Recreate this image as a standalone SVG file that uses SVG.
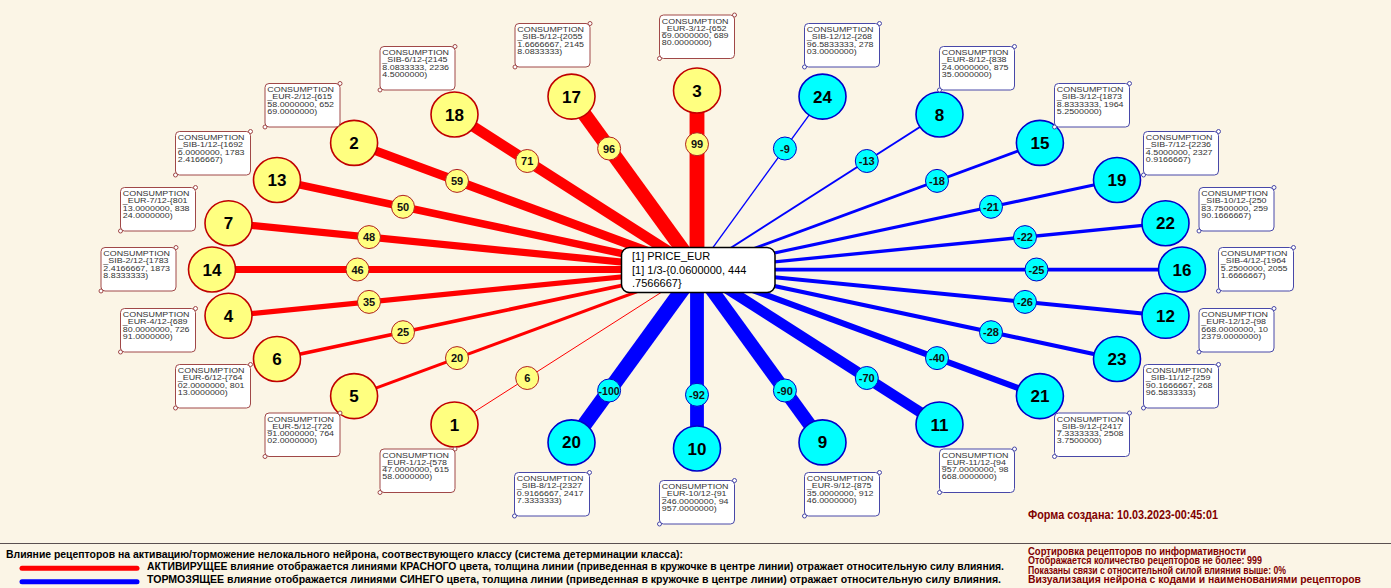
<svg xmlns="http://www.w3.org/2000/svg" width="1391" height="588" viewBox="0 0 1391 588">
<style>
.lr{stroke:#FF0000}
.lb{stroke:#0000FF}
.ny{fill:#FFFF80;stroke:#C00000;stroke-width:1.6}
.nc{fill:#00FFFF;stroke:#0000C8;stroke-width:1.6}
.nt{font-family:"Liberation Sans",Arial,sans-serif;font-weight:bold;font-size:17px;text-anchor:middle;fill:#000}
.vy{fill:#FFFF80;stroke:#B02020;stroke-width:1}
.vc{fill:#00FFFF;stroke:#0000C8;stroke-width:1}
.vt{font-family:"Liberation Sans",Arial,sans-serif;font-weight:bold;font-size:11px;text-anchor:middle;fill:#111}
.br{fill:#fff;stroke:#A04848;stroke-width:1}
.bb{fill:#fff;stroke:#4848A8;stroke-width:1}
.dr{fill:#fff;stroke:#A04848;stroke-width:1}
.db{fill:#fff;stroke:#4848A8;stroke-width:1}
.bt{font-family:"Liberation Sans",Arial,sans-serif;font-size:7px;fill:#333}
.ct{font-family:"Liberation Sans",Arial,sans-serif;font-size:11px;fill:#000}
.lg{font-family:"Liberation Sans",Arial,sans-serif;font-weight:bold;font-size:10px;fill:#000}
.rg{font-family:"Liberation Sans",Arial,sans-serif;font-weight:bold;font-size:10px;fill:#800000}
</style>
<rect x="0" y="0" width="1391" height="588" fill="#FBF5E6"/>
<g id="connectors">
<line class="lr" x1="697" y1="269.5" x2="697" y2="90.5" stroke-width="14.85"/>
<line class="lr" x1="697" y1="269.5" x2="571.5" y2="96.6" stroke-width="14.4"/>
<line class="lr" x1="697" y1="269.5" x2="454.5" y2="114.5" stroke-width="10.65"/>
<line class="lr" x1="697" y1="269.5" x2="354.1" y2="142.9" stroke-width="8.85"/>
<line class="lr" x1="697" y1="269.5" x2="277" y2="180" stroke-width="7.5"/>
<line class="lr" x1="697" y1="269.5" x2="228.5" y2="223.2" stroke-width="7.2"/>
<line class="lr" x1="697" y1="269.5" x2="212" y2="269.5" stroke-width="6.9"/>
<line class="lr" x1="697" y1="269.5" x2="228.5" y2="315.8" stroke-width="5.25"/>
<line class="lr" x1="697" y1="269.5" x2="277" y2="359" stroke-width="3.75"/>
<line class="lr" x1="697" y1="269.5" x2="354.1" y2="396.1" stroke-width="3"/>
<line class="lr" x1="697" y1="269.5" x2="454.5" y2="424.5" stroke-width="1"/>
<line class="lb" x1="697" y1="269.5" x2="571.5" y2="442.4" stroke-width="15"/>
<line class="lb" x1="697" y1="269.5" x2="697" y2="448.5" stroke-width="13.8"/>
<line class="lb" x1="697" y1="269.5" x2="822.5" y2="442.4" stroke-width="13.5"/>
<line class="lb" x1="697" y1="269.5" x2="939.5" y2="424.5" stroke-width="10.5"/>
<line class="lb" x1="697" y1="269.5" x2="1039.9" y2="396.1" stroke-width="6"/>
<line class="lb" x1="697" y1="269.5" x2="1117" y2="359" stroke-width="4.2"/>
<line class="lb" x1="697" y1="269.5" x2="1165.5" y2="315.8" stroke-width="3.9"/>
<line class="lb" x1="697" y1="269.5" x2="1182" y2="269.5" stroke-width="3.75"/>
<line class="lb" x1="697" y1="269.5" x2="1165.5" y2="223.2" stroke-width="3.3"/>
<line class="lb" x1="697" y1="269.5" x2="1117" y2="180" stroke-width="3.15"/>
<line class="lb" x1="697" y1="269.5" x2="1039.9" y2="142.9" stroke-width="2.7"/>
<line class="lb" x1="697" y1="269.5" x2="939.5" y2="114.5" stroke-width="1.95"/>
<line class="lb" x1="697" y1="269.5" x2="822.5" y2="96.6" stroke-width="1.35"/>
<circle class="vy" cx="697" cy="144.2" r="11.5"/><text class="vt" x="697" y="148.2">99</text>
<circle class="vy" cx="609.1" cy="148.5" r="11.5"/><text class="vt" x="609.1" y="152.5">96</text>
<circle class="vy" cx="527.2" cy="161" r="11.5"/><text class="vt" x="527.2" y="165">71</text>
<circle class="vy" cx="457" cy="180.9" r="11.5"/><text class="vt" x="457" y="184.9">59</text>
<circle class="vy" cx="403" cy="206.8" r="11.5"/><text class="vt" x="403" y="210.8">50</text>
<circle class="vy" cx="369" cy="237.1" r="11.5"/><text class="vt" x="369" y="241.1">48</text>
<circle class="vy" cx="357.5" cy="269.5" r="11.5"/><text class="vt" x="357.5" y="273.5">46</text>
<circle class="vy" cx="369" cy="301.9" r="11.5"/><text class="vt" x="369" y="305.9">35</text>
<circle class="vy" cx="403" cy="332.2" r="11.5"/><text class="vt" x="403" y="336.2">25</text>
<circle class="vy" cx="457" cy="358.1" r="11.5"/><text class="vt" x="457" y="362.1">20</text>
<circle class="vy" cx="527.2" cy="378" r="11.5"/><text class="vt" x="527.2" y="382">6</text>
<circle class="vc" cx="609.1" cy="390.5" r="11.5"/><text class="vt" x="609.1" y="394.5" textLength="21" lengthAdjust="spacingAndGlyphs">-100</text>
<circle class="vc" cx="697" cy="394.8" r="11.5"/><text class="vt" x="697" y="398.8">-92</text>
<circle class="vc" cx="784.9" cy="390.5" r="11.5"/><text class="vt" x="784.9" y="394.5">-90</text>
<circle class="vc" cx="866.8" cy="378" r="11.5"/><text class="vt" x="866.8" y="382">-70</text>
<circle class="vc" cx="937" cy="358.1" r="11.5"/><text class="vt" x="937" y="362.1">-40</text>
<circle class="vc" cx="991" cy="332.2" r="11.5"/><text class="vt" x="991" y="336.2">-28</text>
<circle class="vc" cx="1025" cy="301.9" r="11.5"/><text class="vt" x="1025" y="305.9">-26</text>
<circle class="vc" cx="1036.5" cy="269.5" r="11.5"/><text class="vt" x="1036.5" y="273.5">-25</text>
<circle class="vc" cx="1025" cy="237.1" r="11.5"/><text class="vt" x="1025" y="241.1">-22</text>
<circle class="vc" cx="991" cy="206.8" r="11.5"/><text class="vt" x="991" y="210.8">-21</text>
<circle class="vc" cx="937" cy="180.9" r="11.5"/><text class="vt" x="937" y="184.9">-18</text>
<circle class="vc" cx="866.8" cy="161" r="11.5"/><text class="vt" x="866.8" y="165">-13</text>
<circle class="vc" cx="784.9" cy="148.5" r="11.5"/><text class="vt" x="784.9" y="152.5">-9</text>
</g>
<g id="center">
<rect x="621.5" y="247.5" width="153.5" height="45" rx="8" fill="#fff" stroke="#000" stroke-width="1.5"/>
<text class="ct" x="632" y="259.5">[1] PRICE_EUR</text>
<text class="ct" x="632" y="273.5">[1] 1/3-{0.0600000, 444</text>
<text class="ct" x="632" y="287">.7566667}</text>
</g>
<g id="n1"><ellipse class="ny" cx="454.5" cy="424.5" rx="23.5" ry="22.5"/><text class="nt" x="454.5" y="430.5">1</text><rect class="br" x="380" y="449" width="75" height="43.5" rx="4"/><circle class="dr" cx="455" cy="449" r="2"/><circle class="dr" cx="380" cy="492.5" r="2"/><text class="bt" transform="translate(382.3,457.7) scale(1.27,1)"><tspan x="0">CONSUMPTION</tspan><tspan x="0" dy="7.2">_EUR-1/12-{578</tspan><tspan x="0" dy="7.2">47.0000000, 615</tspan><tspan x="0" dy="7.2">58.0000000)</tspan></text></g>
<g id="n2"><ellipse class="ny" cx="354.1" cy="142.9" rx="23.5" ry="22.5"/><text class="nt" x="354.1" y="148.9">2</text><rect class="br" x="265" y="83.5" width="75" height="43.5" rx="4"/><circle class="dr" cx="340" cy="83.5" r="2"/><circle class="dr" cx="265" cy="127" r="2"/><text class="bt" transform="translate(267.3,92.2) scale(1.27,1)"><tspan x="0">CONSUMPTION</tspan><tspan x="0" dy="7.2">_EUR-2/12-{615</tspan><tspan x="0" dy="7.2">58.0000000, 652</tspan><tspan x="0" dy="7.2">69.0000000)</tspan></text></g>
<g id="n3"><ellipse class="ny" cx="697" cy="90.5" rx="23.5" ry="22.5"/><text class="nt" x="697" y="96.5">3</text><rect class="br" x="659.5" y="15" width="75" height="43.5" rx="4"/><circle class="dr" cx="734.5" cy="15" r="2"/><circle class="dr" cx="659.5" cy="58.5" r="2"/><text class="bt" transform="translate(661.8,23.7) scale(1.27,1)"><tspan x="0">CONSUMPTION</tspan><tspan x="0" dy="7.2">_EUR-3/12-{652</tspan><tspan x="0" dy="7.2">69.0000000, 689</tspan><tspan x="0" dy="7.2">80.0000000)</tspan></text></g>
<g id="n4"><ellipse class="ny" cx="228.5" cy="315.8" rx="23.5" ry="22.5"/><text class="nt" x="228.5" y="321.8">4</text><rect class="br" x="120.5" y="308.5" width="75" height="43.5" rx="4"/><circle class="dr" cx="195.5" cy="308.5" r="2"/><circle class="dr" cx="120.5" cy="352" r="2"/><text class="bt" transform="translate(122.8,317.2) scale(1.27,1)"><tspan x="0">CONSUMPTION</tspan><tspan x="0" dy="7.2">_EUR-4/12-{689</tspan><tspan x="0" dy="7.2">80.0000000, 726</tspan><tspan x="0" dy="7.2">91.0000000)</tspan></text></g>
<g id="n5"><ellipse class="ny" cx="354.1" cy="396.1" rx="23.5" ry="22.5"/><text class="nt" x="354.1" y="402.1">5</text><rect class="br" x="265" y="413" width="75" height="43.5" rx="4"/><circle class="dr" cx="340" cy="413" r="2"/><circle class="dr" cx="265" cy="456.5" r="2"/><text class="bt" transform="translate(267.3,421.7) scale(1.27,1)"><tspan x="0">CONSUMPTION</tspan><tspan x="0" dy="7.2">_EUR-5/12-{726</tspan><tspan x="0" dy="7.2">91.0000000, 764</tspan><tspan x="0" dy="7.2">02.0000000)</tspan></text></g>
<g id="n6"><ellipse class="ny" cx="277" cy="359" rx="23.5" ry="22.5"/><text class="nt" x="277" y="365">6</text><rect class="br" x="175.5" y="364.5" width="75" height="43.5" rx="4"/><circle class="dr" cx="250.5" cy="364.5" r="2"/><circle class="dr" cx="175.5" cy="408" r="2"/><text class="bt" transform="translate(177.8,373.2) scale(1.27,1)"><tspan x="0">CONSUMPTION</tspan><tspan x="0" dy="7.2">_EUR-6/12-{764</tspan><tspan x="0" dy="7.2">02.0000000, 801</tspan><tspan x="0" dy="7.2">13.0000000)</tspan></text></g>
<g id="n7"><ellipse class="ny" cx="228.5" cy="223.2" rx="23.5" ry="22.5"/><text class="nt" x="228.5" y="229.2">7</text><rect class="br" x="120.5" y="187.5" width="75" height="43.5" rx="4"/><circle class="dr" cx="195.5" cy="187.5" r="2"/><circle class="dr" cx="120.5" cy="231" r="2"/><text class="bt" transform="translate(122.8,196.2) scale(1.27,1)"><tspan x="0">CONSUMPTION</tspan><tspan x="0" dy="7.2">_EUR-7/12-{801</tspan><tspan x="0" dy="7.2">13.0000000, 838</tspan><tspan x="0" dy="7.2">24.0000000)</tspan></text></g>
<g id="n8"><ellipse class="nc" cx="939.5" cy="114.5" rx="23.5" ry="22.5"/><text class="nt" x="939.5" y="120.5">8</text><rect class="bb" x="939.5" y="46.5" width="75" height="43.5" rx="4"/><circle class="db" cx="1014.5" cy="46.5" r="2"/><circle class="db" cx="939.5" cy="90" r="2"/><text class="bt" transform="translate(941.8,55.2) scale(1.27,1)"><tspan x="0">CONSUMPTION</tspan><tspan x="0" dy="7.2">_EUR-8/12-{838</tspan><tspan x="0" dy="7.2">24.0000000, 875</tspan><tspan x="0" dy="7.2">35.0000000)</tspan></text></g>
<g id="n9"><ellipse class="nc" cx="822.5" cy="442.4" rx="23.5" ry="22.5"/><text class="nt" x="822.5" y="448.4">9</text><rect class="bb" x="804.5" y="472.5" width="75" height="43.5" rx="4"/><circle class="db" cx="879.5" cy="472.5" r="2"/><circle class="db" cx="804.5" cy="516" r="2"/><text class="bt" transform="translate(806.8,481.2) scale(1.27,1)"><tspan x="0">CONSUMPTION</tspan><tspan x="0" dy="7.2">_EUR-9/12-{875</tspan><tspan x="0" dy="7.2">35.0000000, 912</tspan><tspan x="0" dy="7.2">46.0000000)</tspan></text></g>
<g id="n10"><ellipse class="nc" cx="697" cy="448.5" rx="23.5" ry="22.5"/><text class="nt" x="697" y="454.5">10</text><rect class="bb" x="659.5" y="480.5" width="75" height="43.5" rx="4"/><circle class="db" cx="734.5" cy="480.5" r="2"/><circle class="db" cx="659.5" cy="524" r="2"/><text class="bt" transform="translate(661.8,489.2) scale(1.27,1)"><tspan x="0">CONSUMPTION</tspan><tspan x="0" dy="7.2">_EUR-10/12-{91</tspan><tspan x="0" dy="7.2">246.0000000, 94</tspan><tspan x="0" dy="7.2">957.0000000)</tspan></text></g>
<g id="n11"><ellipse class="nc" cx="939.5" cy="424.5" rx="23.5" ry="22.5"/><text class="nt" x="939.5" y="430.5">11</text><rect class="bb" x="939.5" y="449" width="75" height="43.5" rx="4"/><circle class="db" cx="1014.5" cy="449" r="2"/><circle class="db" cx="939.5" cy="492.5" r="2"/><text class="bt" transform="translate(941.8,457.7) scale(1.27,1)"><tspan x="0">CONSUMPTION</tspan><tspan x="0" dy="7.2">_EUR-11/12-{94</tspan><tspan x="0" dy="7.2">957.0000000, 98</tspan><tspan x="0" dy="7.2">668.0000000)</tspan></text></g>
<g id="n12"><ellipse class="nc" cx="1165.5" cy="315.8" rx="23.5" ry="22.5"/><text class="nt" x="1165.5" y="321.8">12</text><rect class="bb" x="1199" y="308.5" width="75" height="43.5" rx="4"/><circle class="db" cx="1274" cy="308.5" r="2"/><circle class="db" cx="1199" cy="352" r="2"/><text class="bt" transform="translate(1201.3,317.2) scale(1.27,1)"><tspan x="0">CONSUMPTION</tspan><tspan x="0" dy="7.2">_EUR-12/12-{98</tspan><tspan x="0" dy="7.2">668.0000000, 10</tspan><tspan x="0" dy="7.2">2379.0000000)</tspan></text></g>
<g id="n13"><ellipse class="ny" cx="277" cy="180" rx="23.5" ry="22.5"/><text class="nt" x="277" y="186">13</text><rect class="br" x="175.5" y="131.5" width="75" height="43.5" rx="4"/><circle class="dr" cx="250.5" cy="131.5" r="2"/><circle class="dr" cx="175.5" cy="175" r="2"/><text class="bt" transform="translate(177.8,140.2) scale(1.27,1)"><tspan x="0">CONSUMPTION</tspan><tspan x="0" dy="7.2">_SIB-1/12-{1692</tspan><tspan x="0" dy="7.2">6.0000000, 1783</tspan><tspan x="0" dy="7.2">2.4166667)</tspan></text></g>
<g id="n14"><ellipse class="ny" cx="212" cy="269.5" rx="23.5" ry="22.5"/><text class="nt" x="212" y="275.5">14</text><rect class="br" x="101" y="247.5" width="75" height="43.5" rx="4"/><circle class="dr" cx="176" cy="247.5" r="2"/><circle class="dr" cx="101" cy="291" r="2"/><text class="bt" transform="translate(103.3,256.2) scale(1.27,1)"><tspan x="0">CONSUMPTION</tspan><tspan x="0" dy="7.2">_SIB-2/12-{1783</tspan><tspan x="0" dy="7.2">2.4166667, 1873</tspan><tspan x="0" dy="7.2">8.8333333)</tspan></text></g>
<g id="n15"><ellipse class="nc" cx="1039.9" cy="142.9" rx="23.5" ry="22.5"/><text class="nt" x="1039.9" y="148.9">15</text><rect class="bb" x="1054.5" y="83.5" width="75" height="43.5" rx="4"/><circle class="db" cx="1129.5" cy="83.5" r="2"/><circle class="db" cx="1054.5" cy="127" r="2"/><text class="bt" transform="translate(1056.8,92.2) scale(1.27,1)"><tspan x="0">CONSUMPTION</tspan><tspan x="0" dy="7.2">_SIB-3/12-{1873</tspan><tspan x="0" dy="7.2">8.8333333, 1964</tspan><tspan x="0" dy="7.2">5.2500000)</tspan></text></g>
<g id="n16"><ellipse class="nc" cx="1182" cy="269.5" rx="23.5" ry="22.5"/><text class="nt" x="1182" y="275.5">16</text><rect class="bb" x="1218.5" y="247.5" width="75" height="43.5" rx="4"/><circle class="db" cx="1293.5" cy="247.5" r="2"/><circle class="db" cx="1218.5" cy="291" r="2"/><text class="bt" transform="translate(1220.8,256.2) scale(1.27,1)"><tspan x="0">CONSUMPTION</tspan><tspan x="0" dy="7.2">_SIB-4/12-{1964</tspan><tspan x="0" dy="7.2">5.2500000, 2055</tspan><tspan x="0" dy="7.2">1.6666667)</tspan></text></g>
<g id="n17"><ellipse class="ny" cx="571.5" cy="96.6" rx="23.5" ry="22.5"/><text class="nt" x="571.5" y="102.6">17</text><rect class="br" x="515" y="23.5" width="75" height="43.5" rx="4"/><circle class="dr" cx="590" cy="23.5" r="2"/><circle class="dr" cx="515" cy="67" r="2"/><text class="bt" transform="translate(517.3,32.2) scale(1.27,1)"><tspan x="0">CONSUMPTION</tspan><tspan x="0" dy="7.2">_SIB-5/12-{2055</tspan><tspan x="0" dy="7.2">1.6666667, 2145</tspan><tspan x="0" dy="7.2">8.0833333)</tspan></text></g>
<g id="n18"><ellipse class="ny" cx="454.5" cy="114.5" rx="23.5" ry="22.5"/><text class="nt" x="454.5" y="120.5">18</text><rect class="br" x="380" y="46.5" width="75" height="43.5" rx="4"/><circle class="dr" cx="455" cy="46.5" r="2"/><circle class="dr" cx="380" cy="90" r="2"/><text class="bt" transform="translate(382.3,55.2) scale(1.27,1)"><tspan x="0">CONSUMPTION</tspan><tspan x="0" dy="7.2">_SIB-6/12-{2145</tspan><tspan x="0" dy="7.2">8.0833333, 2236</tspan><tspan x="0" dy="7.2">4.5000000)</tspan></text></g>
<g id="n19"><ellipse class="nc" cx="1117" cy="180" rx="23.5" ry="22.5"/><text class="nt" x="1117" y="186">19</text><rect class="bb" x="1143.5" y="131.5" width="75" height="43.5" rx="4"/><circle class="db" cx="1218.5" cy="131.5" r="2"/><circle class="db" cx="1143.5" cy="175" r="2"/><text class="bt" transform="translate(1145.8,140.2) scale(1.27,1)"><tspan x="0">CONSUMPTION</tspan><tspan x="0" dy="7.2">_SIB-7/12-{2236</tspan><tspan x="0" dy="7.2">4.5000000, 2327</tspan><tspan x="0" dy="7.2">0.9166667)</tspan></text></g>
<g id="n20"><ellipse class="nc" cx="571.5" cy="442.4" rx="23.5" ry="22.5"/><text class="nt" x="571.5" y="448.4">20</text><rect class="bb" x="514.5" y="472.5" width="75" height="43.5" rx="4"/><circle class="db" cx="589.5" cy="472.5" r="2"/><circle class="db" cx="514.5" cy="516" r="2"/><text class="bt" transform="translate(516.8,481.2) scale(1.27,1)"><tspan x="0">CONSUMPTION</tspan><tspan x="0" dy="7.2">_SIB-8/12-{2327</tspan><tspan x="0" dy="7.2">0.9166667, 2417</tspan><tspan x="0" dy="7.2">7.3333333)</tspan></text></g>
<g id="n21"><ellipse class="nc" cx="1039.9" cy="396.1" rx="23.5" ry="22.5"/><text class="nt" x="1039.9" y="402.1">21</text><rect class="bb" x="1054.5" y="413" width="75" height="43.5" rx="4"/><circle class="db" cx="1129.5" cy="413" r="2"/><circle class="db" cx="1054.5" cy="456.5" r="2"/><text class="bt" transform="translate(1056.8,421.7) scale(1.27,1)"><tspan x="0">CONSUMPTION</tspan><tspan x="0" dy="7.2">_SIB-9/12-{2417</tspan><tspan x="0" dy="7.2">7.3333333, 2508</tspan><tspan x="0" dy="7.2">3.7500000)</tspan></text></g>
<g id="n22"><ellipse class="nc" cx="1165.5" cy="223.2" rx="23.5" ry="22.5"/><text class="nt" x="1165.5" y="229.2">22</text><rect class="bb" x="1199" y="187.5" width="75" height="43.5" rx="4"/><circle class="db" cx="1274" cy="187.5" r="2"/><circle class="db" cx="1199" cy="231" r="2"/><text class="bt" transform="translate(1201.3,196.2) scale(1.27,1)"><tspan x="0">CONSUMPTION</tspan><tspan x="0" dy="7.2">_SIB-10/12-{250</tspan><tspan x="0" dy="7.2">83.7500000, 259</tspan><tspan x="0" dy="7.2">90.1666667)</tspan></text></g>
<g id="n23"><ellipse class="nc" cx="1117" cy="359" rx="23.5" ry="22.5"/><text class="nt" x="1117" y="365">23</text><rect class="bb" x="1143.5" y="364.5" width="75" height="43.5" rx="4"/><circle class="db" cx="1218.5" cy="364.5" r="2"/><circle class="db" cx="1143.5" cy="408" r="2"/><text class="bt" transform="translate(1145.8,373.2) scale(1.27,1)"><tspan x="0">CONSUMPTION</tspan><tspan x="0" dy="7.2">_SIB-11/12-{259</tspan><tspan x="0" dy="7.2">90.1666667, 268</tspan><tspan x="0" dy="7.2">96.5833333)</tspan></text></g>
<g id="n24"><ellipse class="nc" cx="822.5" cy="96.6" rx="23.5" ry="22.5"/><text class="nt" x="822.5" y="102.6">24</text><rect class="bb" x="804.5" y="23.5" width="75" height="43.5" rx="4"/><circle class="db" cx="879.5" cy="23.5" r="2"/><circle class="db" cx="804.5" cy="67" r="2"/><text class="bt" transform="translate(806.8,32.2) scale(1.27,1)"><tspan x="0">CONSUMPTION</tspan><tspan x="0" dy="7.2">_SIB-12/12-{268</tspan><tspan x="0" dy="7.2">96.5833333, 278</tspan><tspan x="0" dy="7.2">03.0000000)</tspan></text></g>
<g id="footer">
<text x="1028" y="519.3" font-family="Liberation Sans, Arial, sans-serif" font-weight="bold" font-size="12" fill="#800000" textLength="190" lengthAdjust="spacingAndGlyphs">Форма создана: 10.03.2023-00:45:01</text>
<line x1="0" y1="543.5" x2="1391" y2="543.5" stroke="#5a5050" stroke-width="1"/>
<text class="lg" x="6" y="557.5" textLength="677" lengthAdjust="spacingAndGlyphs">Влияние рецепторов на активацию/торможение нелокального нейрона, соотвествующего классу (система детерминации класса):</text>
<line x1="22" y1="568.3" x2="137" y2="568.3" stroke="#FF0000" stroke-width="5" stroke-linecap="round"/>
<text class="lg" x="147" y="570" textLength="857" lengthAdjust="spacingAndGlyphs">АКТИВИРУЩЕЕ влияние отображается линиями КРАСНОГО цвета, толщина линии (приведенная в кружочке в центре линии) отражает относительную силу влияния.</text>
<line x1="22" y1="581.7" x2="137" y2="581.7" stroke="#0000FF" stroke-width="5" stroke-linecap="round"/>
<text class="lg" x="147" y="582.5" textLength="854" lengthAdjust="spacingAndGlyphs">ТОРМОЗЯЩЕЕ влияние отображается линиями СИНЕГО цвета, толщина линии (приведенная в кружочке в центре линии) отражает относительную силу влияния.</text>
<text class="rg" x="1028" y="554.5" textLength="218" lengthAdjust="spacingAndGlyphs">Сортировка рецепторов по информативности</text>
<text class="rg" x="1028" y="564" textLength="234" lengthAdjust="spacingAndGlyphs">Отображается количество рецепторов не более: 999</text>
<text class="rg" x="1028" y="573.5" textLength="258" lengthAdjust="spacingAndGlyphs">Показаны связи с относительной силой влияния выше: 0%</text>
<text class="rg" x="1028" y="583" textLength="333" lengthAdjust="spacingAndGlyphs">Визуализация нейрона с кодами и наименованиями рецепторов</text>
</g>
</svg>
